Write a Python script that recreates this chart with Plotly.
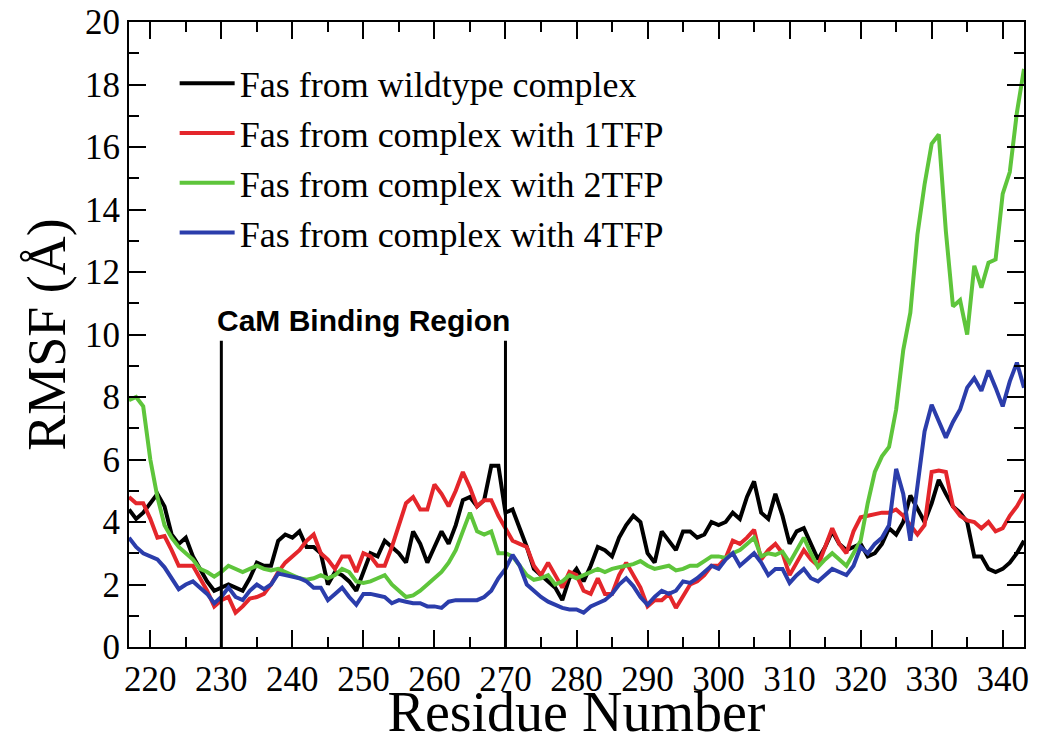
import plotly.graph_objects as go

residues = list(range(217, 344))

wildtype = [4.4, 4.1, 4.3, 4.6, 4.9, 4.5, 3.6, 3.3, 3.5, 2.9,
            2.5, 2.1, 1.8, 1.9, 2.0, 1.9, 1.8, 2.2, 2.7, 2.6,
            2.6, 3.4, 3.6, 3.5, 3.7, 3.2, 3.2, 3.0, 2.0, 2.4,
            2.3, 2.1, 1.8, 2.4, 3.0, 2.9, 3.4, 3.2, 3.0, 2.7,
            3.7, 3.3, 2.7, 3.2, 3.7, 3.3, 3.9, 4.7, 4.8, 4.5,
            4.7, 5.8, 5.8, 4.3, 4.4, 3.8, 3.2, 2.5, 2.3, 2.1,
            1.9, 1.5, 2.2, 2.5, 2.1, 2.6, 3.2, 3.1, 2.9, 3.5,
            3.9, 4.2, 4.0, 3.0, 2.7, 3.7, 3.4, 3.1, 3.7, 3.7,
            3.5, 3.6, 4.0, 3.9, 4.0, 4.3, 4.1, 4.8, 5.3, 4.3,
            4.1, 4.9, 4.2, 3.3, 3.7, 3.8, 3.3, 2.8, 3.2, 3.7,
            3.3, 3.1, 3.2, 3.3, 2.9, 3.0, 3.3, 3.8, 3.6, 4.0,
            4.85, 4.4, 4.0, 4.6, 5.35, 4.9, 4.5, 4.3, 4.0, 2.9,
            2.9, 2.5, 2.4, 2.5, 2.7, 3.0, 3.4]

tfp1 = [4.8, 4.6, 4.6, 4.1, 3.5, 3.55, 3.1, 2.6, 2.6, 2.6,
        2.2, 1.8, 1.3, 1.5, 1.6, 1.1, 1.3, 1.55, 1.6, 1.7,
        2.0, 2.4, 2.7, 2.9, 3.1, 3.4, 3.6, 3.0, 2.8, 2.5,
        2.9, 2.9, 2.4, 3.0, 2.9, 2.6, 2.6, 3.2, 3.9, 4.6,
        4.8, 4.4, 4.4, 5.2, 4.9, 4.5, 5.0, 5.6, 5.1, 4.5,
        4.7, 4.7, 4.2, 3.8, 3.4, 3.3, 3.2, 2.6, 2.3, 2.7,
        2.3, 1.9, 2.4, 2.3, 1.8, 1.7, 2.2, 1.7, 1.7, 2.3,
        2.7, 2.3, 1.9, 1.3, 1.5, 1.5, 1.7, 1.25, 1.6, 2.0,
        2.1, 2.3, 2.6, 2.6, 2.85, 3.4, 3.3, 3.5, 3.75, 2.8,
        3.1, 3.3, 3.0, 2.3, 2.7, 3.1, 2.8, 2.6, 3.2, 3.8,
        3.3, 3.0, 3.7, 4.15, 4.2, 4.25, 4.3, 4.3, 4.4, 4.2,
        3.9, 3.6, 3.9, 5.6, 5.65, 5.6, 4.5, 4.2, 4.05, 4.0,
        3.8, 4.0, 3.7, 3.8, 4.2, 4.5, 4.9]

tfp2 = [7.9, 8.0, 7.7, 6.0, 4.8, 3.9, 3.5, 3.2, 3.0, 2.8,
        2.5, 2.4, 2.25, 2.4, 2.6, 2.5, 2.4, 2.5, 2.6, 2.5,
        2.45, 2.5, 2.4, 2.3, 2.2, 2.15, 2.2, 2.3, 2.2, 2.3,
        2.5, 2.4, 2.1, 2.05, 2.1, 2.2, 2.3, 2.0, 1.8, 1.6,
        1.65, 1.8, 2.0, 2.2, 2.4, 2.7, 3.1, 3.7, 4.3, 3.7,
        3.6, 3.7, 3.0, 3.0, 2.9, 2.6, 2.3, 2.15, 2.2, 2.3,
        2.0, 2.1, 2.3, 2.2, 2.3, 2.4, 2.5, 2.4, 2.5, 2.55,
        2.6, 2.65, 2.75, 2.6, 2.5, 2.55, 2.6, 2.45, 2.5, 2.6,
        2.6, 2.75, 2.9, 2.9, 2.85, 3.0, 3.1, 3.3, 3.5, 2.9,
        3.0, 2.95, 3.05, 2.7, 3.1, 3.5, 3.0, 2.56, 2.8, 3.0,
        2.8, 2.6, 3.0, 3.4, 4.6, 5.6, 6.1, 6.4, 7.6, 9.5,
        10.7, 13.2, 14.8, 16.1, 16.4, 13.3, 10.9, 11.1, 10.0, 12.2,
        11.5, 12.3, 12.4, 14.5, 15.2, 17.1, 18.5]

tfp4 = [3.5, 3.2, 3.0, 2.9, 2.8, 2.55, 2.2, 1.85, 2.0, 2.1,
        1.9, 1.7, 1.4, 1.6, 1.9, 1.6, 1.5, 1.8, 2.0, 1.85,
        2.0, 2.35, 2.3, 2.25, 2.2, 2.1, 1.9, 1.9, 1.5, 1.7,
        1.9, 1.6, 1.35, 1.7, 1.7, 1.65, 1.6, 1.4, 1.5, 1.45,
        1.4, 1.4, 1.3, 1.3, 1.25, 1.45, 1.5, 1.5, 1.5, 1.5,
        1.6, 1.8, 2.2, 2.5, 2.95, 2.6, 2.0, 1.8, 1.6, 1.45,
        1.35, 1.25, 1.2, 1.2, 1.1, 1.3, 1.4, 1.5, 1.7, 2.0,
        2.2, 1.95, 1.6, 1.35, 1.6, 1.8, 1.7, 1.8, 2.1, 2.05,
        2.2, 2.4, 2.6, 2.5, 2.8, 3.0, 2.6, 2.8, 3.0, 2.7,
        2.3, 2.5, 2.5, 2.05, 2.3, 2.5, 2.2, 2.1, 2.3, 2.5,
        2.4, 2.3, 2.6, 3.2, 3.0, 3.3, 3.5, 3.9, 5.7, 4.9,
        3.4, 5.1, 6.9, 7.75, 7.2, 6.7, 7.2, 7.6, 8.3, 8.6,
        8.2, 8.85, 8.3, 7.7, 8.5, 9.1, 8.3]

series_names = ["Fas from wildtype complex", "Fas from complex with 1TFP",
                "Fas from complex with 2TFP", "Fas from complex with 4TFP"]
series_values = [wildtype, tfp1, tfp2, tfp4]
series_colors = ["#000000", "#e4262b", "#5ec53b", "#2b3dab"]

region_bounds = [230, 270]
region_top = 9.8
region_label = "CaM Binding Region"
region_label_pos = [250, 10.45]

x_range = [217, 343]
y_range = [0, 20]

SERIF = "Liberation Serif"

fig = go.Figure()
for name, vals, col in zip(series_names, series_values, series_colors):
    fig.add_trace(go.Scatter(x=residues, y=vals, mode="lines", name=name,
                             line=dict(color=col, width=4)))

for xb in region_bounds:
    fig.add_shape(type="line", xref="x", yref="y", x0=xb, x1=xb, y0=0, y1=region_top,
                  line=dict(color="black", width=3), layer="above")

fig.add_annotation(x=region_label_pos[0], y=region_label_pos[1], xref="x", yref="y",
                   text="<b>" + region_label + "</b>", showarrow=False,
                   font=dict(family="Liberation Sans", size=30, color="black"))

axis_font = dict(family=SERIF, size=35, color="black")
fig.update_xaxes(range=x_range, tick0=220, dtick=10, ticks="inside", ticklen=17, tickwidth=2,
                 tickcolor="black", showline=True, linecolor="black", linewidth=2,
                 mirror="allticks", showgrid=False, zeroline=False, tickfont=axis_font,
                 automargin=False,
                 minor=dict(dtick=5, tick0=215, ticks="inside", ticklen=10, tickwidth=2,
                            tickcolor="black", showgrid=False),
                 title=dict(text="Residue Number", standoff=8,
                            font=dict(family=SERIF, size=56, color="black")))
fig.update_yaxes(range=y_range, dtick=2, ticks="inside", ticklen=17, tickwidth=2,
                 tickcolor="black", showline=True, linecolor="black", linewidth=2,
                 mirror="allticks", showgrid=False, zeroline=False, tickfont=axis_font,
                 automargin=False,
                 minor=dict(dtick=1, ticks="inside", ticklen=10, tickwidth=2,
                            tickcolor="black", showgrid=False),
                 title=dict(text="RMSF (Å)", standoff=2,
                            font=dict(family=SERIF, size=54, color="black")))

fig.update_layout(
    width=1041, height=743,
    margin=dict(l=129, r=17, t=22, b=96),
    paper_bgcolor="white", plot_bgcolor="white",
    font=dict(family=SERIF, color="black"),
    showlegend=True,
    legend=dict(x=0.051, y=0.95, xanchor="left", yanchor="top",
                bgcolor="rgba(0,0,0,0)", borderwidth=0,
                font=dict(family=SERIF, size=36, color="black"),
                itemwidth=55, tracegroupgap=0),
)

fig.write_html("out.html")
